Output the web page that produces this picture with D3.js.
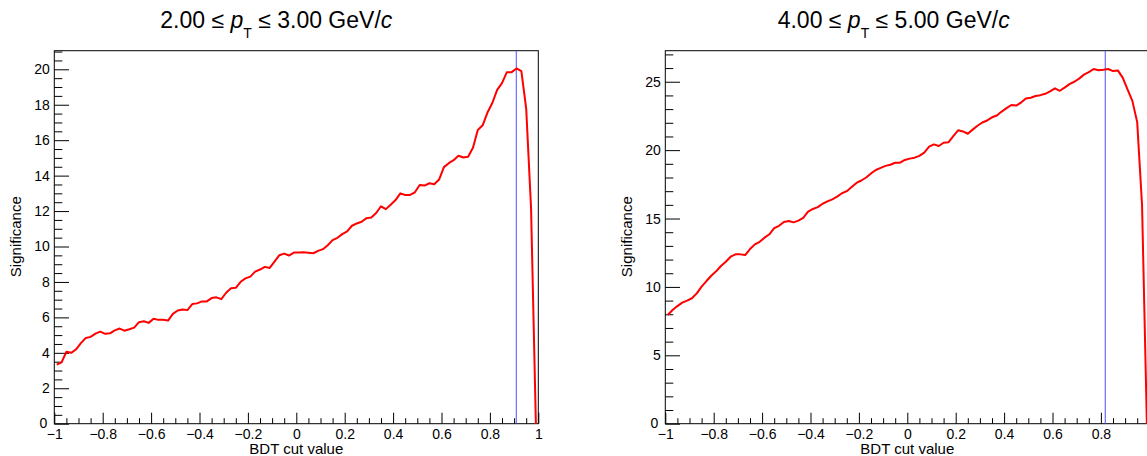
<!DOCTYPE html>
<html>
<head>
<meta charset="utf-8">
<script src="https://cdn.jsdelivr.net/npm/d3@7"></script>
<style>
  html, body { margin: 0; padding: 0; background: #fff; }
  svg { display: block; }
  text { font-family: "Liberation Sans", Arial, Helvetica, sans-serif; fill: #000; }
</style>
</head>
<body>
<svg id="chart" width="1147" height="456"></svg>
<script>
// ---------------- data ----------------
const bdtCuts = [
  -0.99,-0.97,-0.95,-0.93,-0.91,-0.89,-0.87,-0.85,-0.83,-0.81,
  -0.79,-0.77,-0.75,-0.73,-0.71,-0.69,-0.67,-0.65,-0.63,-0.61,
  -0.59,-0.57,-0.55,-0.53,-0.51,-0.49,-0.47,-0.45,-0.43,-0.41,
  -0.39,-0.37,-0.35,-0.33,-0.31,-0.29,-0.27,-0.25,-0.23,-0.21,
  -0.19,-0.17,-0.15,-0.13,-0.11,-0.09,-0.07,-0.05,-0.03,-0.01,
   0.01, 0.03, 0.05, 0.07, 0.09, 0.11, 0.13, 0.15, 0.17, 0.19,
   0.21, 0.23, 0.25, 0.27, 0.29, 0.31, 0.33, 0.35, 0.37, 0.39,
   0.41, 0.43, 0.45, 0.47, 0.49, 0.51, 0.53, 0.55, 0.57, 0.59,
   0.61, 0.63, 0.65, 0.67, 0.69, 0.71, 0.73, 0.75, 0.77, 0.79,
   0.81, 0.83, 0.85, 0.87, 0.89, 0.91, 0.93, 0.95, 0.97, 0.99
];
const significancePt2to3 = [
  3.33, 3.46, 4.06, 4.00, 4.20, 4.55, 4.84, 4.90, 5.08, 5.20,
  5.07, 5.10, 5.27, 5.37, 5.25, 5.33, 5.42, 5.73, 5.78, 5.69,
  5.92, 5.86, 5.86, 5.82, 6.20, 6.39, 6.45, 6.41, 6.75, 6.79,
  6.90, 6.90, 7.09, 7.13, 7.03, 7.39, 7.64, 7.67, 8.01, 8.20,
  8.30, 8.58, 8.70, 8.85, 8.79, 9.15, 9.51, 9.60, 9.49, 9.66,
  9.66, 9.67, 9.65, 9.62, 9.75, 9.85, 10.07, 10.36, 10.49, 10.70,
  10.85, 11.17, 11.30, 11.40, 11.60, 11.64, 11.89, 12.27, 12.11, 12.36,
  12.62, 13.00, 12.91, 12.91, 13.06, 13.47, 13.44, 13.57, 13.51, 13.78,
  14.48, 14.70, 14.87, 15.12, 15.02, 15.06, 15.57, 16.58, 16.84, 17.56,
  18.10, 18.84, 19.22, 19.84, 19.84, 20.05, 19.90, 17.78, 12.20, 0
];
const significancePt4to5 = [
  7.95, 8.31, 8.60, 8.85, 9.00, 9.17, 9.53, 10.02, 10.43, 10.82,
  11.14, 11.53, 11.84, 12.21, 12.38, 12.38, 12.33, 12.77, 13.11, 13.30,
  13.60, 13.85, 14.30, 14.47, 14.75, 14.82, 14.72, 14.85, 15.05, 15.50,
  15.70, 15.83, 16.08, 16.25, 16.40, 16.60, 16.85, 17.00, 17.30, 17.60,
  17.78, 18.00, 18.30, 18.55, 18.70, 18.85, 18.93, 19.08, 19.08, 19.28,
  19.38, 19.45, 19.58, 19.82, 20.25, 20.42, 20.30, 20.54, 20.57, 21.03,
  21.45, 21.37, 21.20, 21.50, 21.78, 22.02, 22.17, 22.40, 22.53, 22.82,
  23.07, 23.30, 23.26, 23.48, 23.78, 23.83, 23.96, 24.02, 24.12, 24.30,
  24.52, 24.34, 24.57, 24.83, 25.00, 25.23, 25.52, 25.70, 25.93, 25.84,
  25.88, 25.93, 25.78, 25.83, 25.30, 24.45, 23.60, 22.05, 16.00, 0
];
const bestCuts = [0.909, 0.818];
const ptLow = ["2.00", "4.00"];
const ptHigh = ["3.00", "5.00"];
const yMaxes = [21.05, 27.27];

const xMajorTicks = [-1, -0.8, -0.6, -0.4, -0.2, 0, 0.2, 0.4, 0.6, 0.8, 1];
const xTickLabelsLeft = ["\u22121", "\u22120.8", "\u22120.6", "\u22120.4", "\u22120.2", "0", "0.2", "0.4", "0.6", "0.8", "1"];
// the right canvas is cropped: its "1" label falls outside the picture
const xTickLabelsRight = ["\u22121", "\u22120.8", "\u22120.6", "\u22120.4", "\u22120.2", "0", "0.2", "0.4", "0.6", "0.8", ""];
const yMajorTicksLeft = [0, 2, 4, 6, 8, 10, 12, 14, 16, 18, 20];
const yTickLabelsLeft = ["0", "2", "4", "6", "8", "10", "12", "14", "16", "18", "20"];
const yMajorTicksRight = [0, 5, 10, 15, 20, 25];
const yTickLabelsRight = ["0", "5", "10", "15", "20", "25"];
const yMinorStep = [0.5, 1];
const xTitle = "BDT cut value";
const yTitle = "Significance";

// ---------------- layout ----------------
const svg = d3.select("#chart");
const panelOffset = 611;
const frame = { left: 54.3, right: 538.3, top: 50.7, bottom: 423.7 };
const titleCenters = [276.3, 893.7 - 611];

const panels = [
  { values: significancePt2to3, yTicks: yMajorTicksLeft, yLabels: yTickLabelsLeft, xLabels: xTickLabelsLeft },
  { values: significancePt4to5, yTicks: yMajorTicksRight, yLabels: yTickLabelsRight, xLabels: xTickLabelsRight }
];

panels.forEach((p, k) => {
  const g = svg.append("g").attr("transform", `translate(${k * panelOffset},0)`);
  const x = d3.scaleLinear().domain([-1, 1]).range([frame.left, frame.right]);
  const y = d3.scaleLinear().domain([0, yMaxes[k]]).range([frame.bottom, frame.top]);

  // minor ticks
  const xMinor = d3.range(-1, 1.0001, 0.05).filter(v => Math.abs(Math.round(v * 5) - v * 5) > 1e-6);
  const yMinor = d3.range(0, yMaxes[k] + 1e-6, yMinorStep[k]).filter(v => !p.yTicks.some(t => Math.abs(t - v) < 1e-6));

  g.append("g").attr("transform", `translate(0,${frame.bottom})`)
    .call(d3.axisBottom(x).tickValues(xMinor).tickSize(-5.5).tickFormat("").tickSizeOuter(0))
    .call(s => s.select(".domain").remove());
  g.append("g").attr("transform", `translate(${frame.left},0)`)
    .call(d3.axisLeft(y).tickValues(yMinor).tickSize(-8).tickFormat("").tickSizeOuter(0))
    .call(s => s.select(".domain").remove());

  // major ticks
  const xa = g.append("g").attr("transform", `translate(0,${frame.bottom})`)
    .call(d3.axisBottom(x).tickValues(xMajorTicks).tickSize(-11).tickPadding(5)
      .tickFormat((d, i) => p.xLabels[i]).tickSizeOuter(0));
  xa.select(".domain").remove();
  xa.selectAll("text").attr("font-size", 14).attr("font-family", null);

  const ya = g.append("g").attr("transform", `translate(${frame.left},0)`)
    .call(d3.axisLeft(y).tickValues(p.yTicks).tickSize(-14.7).tickPadding(4.5)
      .tickFormat((d, i) => p.yLabels[i]).tickSizeOuter(0));
  ya.select(".domain").remove();
  ya.selectAll("text").attr("font-size", 14).attr("font-family", null);
  // ROOT nudges the zero label slightly away from the corner
  ya.selectAll(".tick").filter(d => d === 0).select("text").attr("x", -7).attr("dy", "0.25em");

  g.selectAll(".tick line").attr("stroke", "#000").attr("stroke-width", 1);

  // frame
  g.append("rect")
    .attr("x", frame.left).attr("y", frame.top)
    .attr("width", frame.right - frame.left).attr("height", frame.bottom - frame.top)
    .attr("fill", "none").attr("stroke", "#000").attr("stroke-width", 1);

  // best cut line
  g.append("line")
    .attr("x1", x(bestCuts[k])).attr("x2", x(bestCuts[k]))
    .attr("y1", frame.top).attr("y2", frame.bottom)
    .attr("stroke", "#4d4dff").attr("stroke-width", 1);

  // curve
  const line = d3.line().x((d, i) => x(bdtCuts[i])).y(d => y(d));
  g.append("path").datum(p.values)
    .attr("d", line)
    .attr("fill", "none").attr("stroke", "#ff0000").attr("stroke-width", 2)
    .attr("stroke-linejoin", "round");

  // axis titles
  g.append("text")
    .attr("x", (frame.left + frame.right) / 2).attr("y", 453.5)
    .attr("text-anchor", "middle").attr("font-size", 15)
    .text(xTitle);
  g.append("text")
    .attr("transform", `translate(21,236.7) rotate(-90)`)
    .attr("text-anchor", "middle").attr("font-size", 15)
    .text(yTitle);

  // panel title
  const t = g.append("text")
    .attr("x", titleCenters[k]).attr("y", 28.3)
    .attr("text-anchor", "middle").attr("font-size", 23);
  t.append("tspan").text(ptLow[k] + " \u2264 ");
  t.append("tspan").attr("font-style", "italic").text("p");
  t.append("tspan").attr("font-size", 14).attr("dy", 10).text("T");
  t.append("tspan").attr("dy", -10).text(" \u2264 " + ptHigh[k] + " GeV/");
  t.append("tspan").attr("font-style", "italic").text("c");
});
</script>
</body>
</html>
